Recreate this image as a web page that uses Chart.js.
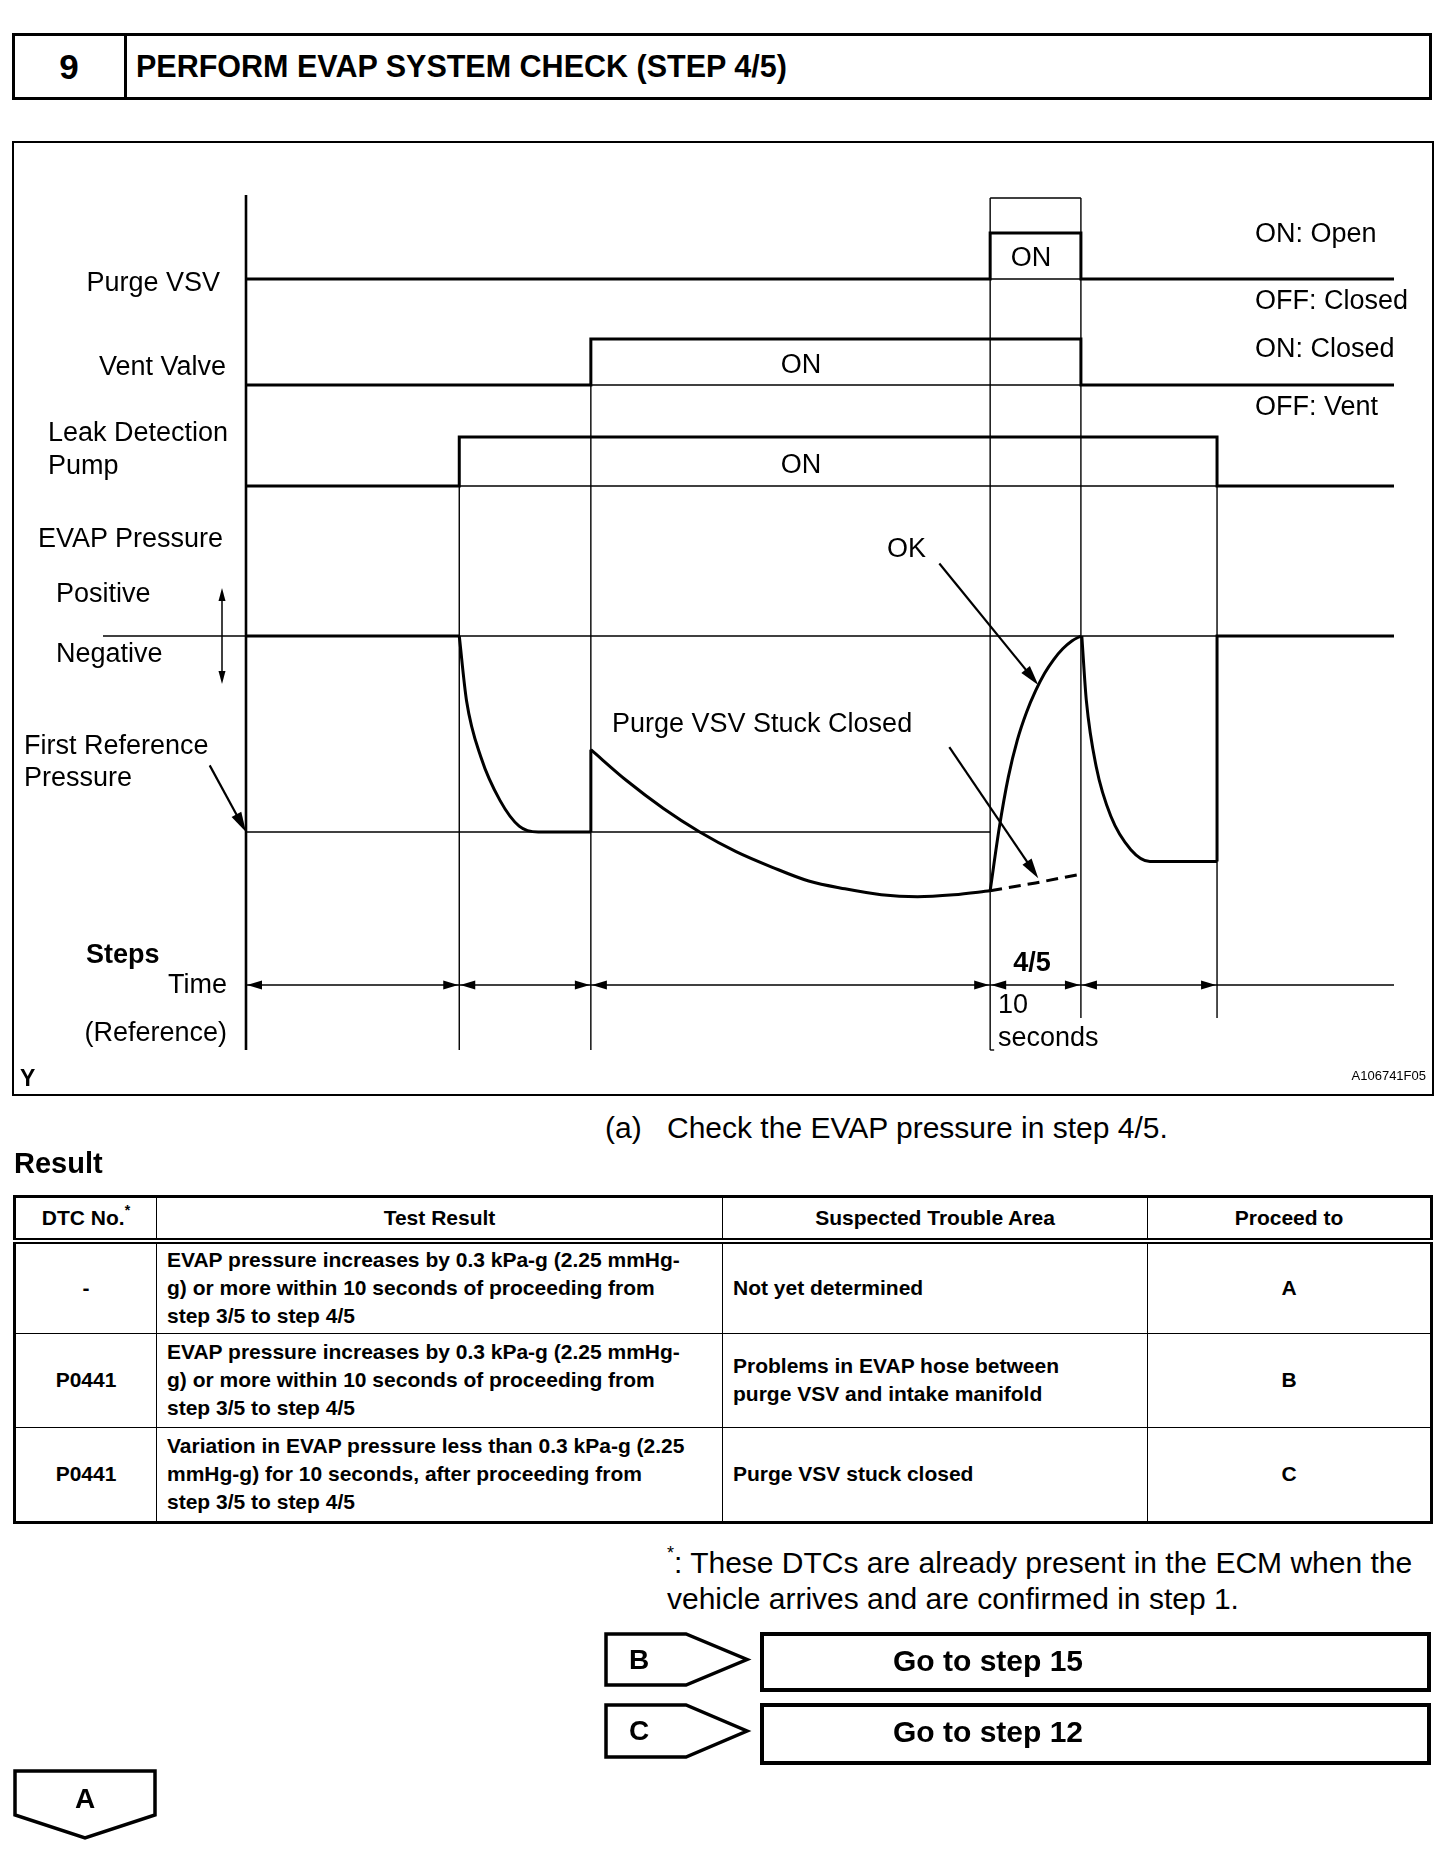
<!DOCTYPE html>
<html><head><meta charset="utf-8">
<script src="https://cdn.jsdelivr.net/npm/chart.js@4/dist/chart.umd.min.js"></script>
<style>
html,body{margin:0;padding:0;background:#fff;}
body{width:1456px;height:1872px;position:relative;overflow:hidden;font-family:"Liberation Sans",Arial,Helvetica,sans-serif;color:#000;}
.abs{position:absolute;white-space:nowrap;line-height:1;}
.l{transform:translate(0,-50%);}
.r{transform:translate(-100%,-50%);}
.c{transform:translate(-50%,-50%);}
.d{font-size:27px;}
.b{font-weight:bold;}
#hdr{position:absolute;left:12px;top:33px;width:1420px;height:67px;border:3px solid #000;box-sizing:border-box;}
#hdrDiv{position:absolute;left:109px;top:0;bottom:0;border-left:3px solid #000;}
#frame{position:absolute;left:12px;top:141px;width:1422px;height:955px;border:2px solid #000;box-sizing:border-box;}
#c{position:absolute;left:0;top:0;}
table{position:absolute;left:13px;top:1195px;border-collapse:collapse;table-layout:fixed;width:1417px;border:3px solid #000;}
td,th{border:1.5px solid #000;font-size:21px;font-weight:bold;line-height:28px;padding:0 10px;vertical-align:middle;white-space:nowrap;overflow:visible;}
th{height:40px;border-bottom:6px double #000;text-align:center;}
td.cen{text-align:center;}
svg{position:absolute;left:0;top:0;}
</style></head><body>
<div id="hdr"><div id="hdrDiv"></div></div>
<div class="abs c b" style="left:69px;top:66px;font-size:35px;">9</div>
<div class="abs l b" style="left:136px;top:66px;font-size:30.5px;">PERFORM EVAP SYSTEM CHECK (STEP 4/5)</div>

<div id="frame"></div>
<canvas id="c" width="1456" height="1110"></canvas>

<!-- diagram labels -->
<div class="abs r d" style="left:220px;top:282px;">Purge VSV</div>
<div class="abs r d" style="left:226px;top:366px;">Vent Valve</div>
<div class="abs l d" style="left:48px;top:432px;">Leak Detection</div>
<div class="abs l d" style="left:48px;top:465px;">Pump</div>
<div class="abs l d" style="left:38px;top:538px;">EVAP Pressure</div>
<div class="abs l d" style="left:56px;top:593px;">Positive</div>
<div class="abs l d" style="left:56px;top:653px;">Negative</div>
<div class="abs l d" style="left:24px;top:745px;">First Reference</div>
<div class="abs l d" style="left:24px;top:777px;">Pressure</div>
<div class="abs l d" style="left:612px;top:723px;">Purge VSV Stuck Closed</div>
<div class="abs l d" style="left:887px;top:548px;">OK</div>
<div class="abs c d" style="left:1031px;top:257px;">ON</div>
<div class="abs c d" style="left:801px;top:364px;">ON</div>
<div class="abs c d" style="left:801px;top:464px;">ON</div>
<div class="abs l d" style="left:1255px;top:233px;">ON: Open</div>
<div class="abs l d" style="left:1255px;top:300px;">OFF: Closed</div>
<div class="abs l d" style="left:1255px;top:348px;">ON: Closed</div>
<div class="abs l d" style="left:1255px;top:406px;">OFF: Vent</div>
<div class="abs l d b" style="left:86px;top:954px;">Steps</div>
<div class="abs r d" style="left:227px;top:984px;">Time</div>
<div class="abs r d" style="left:227px;top:1032px;">(Reference)</div>
<div class="abs c d b" style="left:1032px;top:962px;">4/5</div>
<div class="abs l d" style="left:998px;top:1004px;">10</div>
<div class="abs l d" style="left:998px;top:1037px;">seconds</div>
<div class="abs l b" style="left:20px;top:1078px;font-size:23px;">Y</div>
<div class="abs r" style="left:1426px;top:1075px;font-size:13px;">A106741F05</div>

<!-- below diagram -->
<div class="abs l" style="left:605px;top:1128px;font-size:30px;">(a)</div>
<div class="abs l" style="left:667px;top:1128px;font-size:30px;">Check the EVAP pressure in step 4/5.</div>
<div class="abs l b" style="left:14px;top:1163px;font-size:29px;">Result</div>

<table>
<colgroup><col style="width:142px"><col style="width:566px"><col style="width:425px"><col style="width:284px"></colgroup>
<tr><th>DTC No.<sup style="font-size:14px;vertical-align:10px;line-height:0;">*</sup></th><th>Test Result</th><th>Suspected Trouble Area</th><th>Proceed to</th></tr>
<tr style="height:92px"><td class="cen">-</td><td>EVAP pressure increases by 0.3 kPa-g (2.25 mmHg-<br>g) or more within 10 seconds of proceeding from<br>step 3/5 to step 4/5</td><td>Not yet determined</td><td class="cen">A</td></tr>
<tr style="height:94px"><td class="cen">P0441</td><td>EVAP pressure increases by 0.3 kPa-g (2.25 mmHg-<br>g) or more within 10 seconds of proceeding from<br>step 3/5 to step 4/5</td><td>Problems in EVAP hose between<br>purge VSV and intake manifold</td><td class="cen">B</td></tr>
<tr style="height:95px"><td class="cen">P0441</td><td>Variation in EVAP pressure less than 0.3 kPa-g (2.25<br>mmHg-g) for 10 seconds, after proceeding from<br>step 3/5 to step 4/5</td><td>Purge VSV stuck closed</td><td class="cen">C</td></tr>
</table>

<div class="abs l" style="left:667px;top:1563px;font-size:30px;"><sup style="font-size:18px;vertical-align:14px;line-height:0;">*</sup>: These DTCs are already present in the ECM when the</div>
<div class="abs l" style="left:667px;top:1599px;font-size:30px;">vehicle arrives and are confirmed in step 1.</div>

<svg width="1456" height="1872">
<polygon points="606,1634 686,1634 747,1659.5 686,1685 606,1685" fill="#fff" stroke="#000" stroke-width="3.5"/>
<rect x="762" y="1634" width="667" height="56" fill="#fff" stroke="#000" stroke-width="4"/>
<polygon points="606,1705 686,1705 747,1731 686,1757 606,1757" fill="#fff" stroke="#000" stroke-width="3.5"/>
<rect x="762" y="1705" width="667" height="58" fill="#fff" stroke="#000" stroke-width="4"/>
<polygon points="15,1771 155,1771 155,1815 85,1838 15,1815" fill="#fff" stroke="#000" stroke-width="3.5"/>
</svg>
<div class="abs l b" style="left:629px;top:1660px;font-size:28px;">B</div>
<div class="abs l b" style="left:893px;top:1661px;font-size:30px;">Go to step 15</div>
<div class="abs l b" style="left:629px;top:1731px;font-size:28px;">C</div>
<div class="abs l b" style="left:893px;top:1732px;font-size:30px;">Go to step 12</div>
<div class="abs c b" style="left:85px;top:1799px;font-size:28px;">A</div>

<script>
// ---------- DATA (time in seconds) ----------
// step boundaries: start, pump ON, vent ON (3/5), purge ON (4/5), 4/5 end, pump OFF, end of trace
const stepBounds = [0, 23.5, 38, 82, 92, 107, 126.5];
// ON(1)/OFF(0) state within each step interval
const purgeVSV  = [0, 0, 0, 1, 0, 0];
const ventValve = [0, 0, 1, 1, 0, 0];
const leakPump  = [0, 1, 1, 1, 1, 0];

// EVAP pressure (relative units, first reference pressure = -1)
const firstRef = -1.0;
const idleT = [0, 23.5];                      const idleP = [0, 0];
const pumpDownT = [23.5, 24.3, 25.9, 28.0, 30.1, 32.2, 38];
const pumpDownP = [0, -0.33, -0.62, -0.84, -0.97, -1.0, -1.0];
const ventJumpT = [38, 38];                   const ventJumpP = [-1.0, -0.58];
const sealedT = [38, 42, 46, 50, 54, 58, 62, 66, 70, 74, 78, 82];
const sealedP = [-0.58, -0.74, -0.88, -1.0, -1.10, -1.18, -1.25, -1.29, -1.32, -1.33, -1.32, -1.30];
const okRiseT = [82, 83, 84, 85, 86, 87, 88, 89, 90, 91, 92];
const okRiseP = [-1.30, -0.98, -0.72, -0.53, -0.39, -0.28, -0.19, -0.12, -0.065, -0.025, 0];
const stuckT = [82, 87, 92];                  const stuckP = [-1.30, -1.26, -1.215];
const ventDropT = [92.1, 92.6, 93.7, 95.3, 97.5, 99.6, 101, 107];
const ventDropP = [0, -0.33, -0.67, -0.92, -1.09, -1.15, -1.15, -1.15];
const releaseT = [107, 107, 126.5];           const releaseP = [-1.15, 0, 0];

// pointer arrows (time, pressure)
const okPointer    = {from: [76.4, 0.37],  to: [87.3, -0.25]};
const stuckPointer = {from: [77.5, -0.567], to: [87.3, -1.236]};
const refPointer   = {from: [-4.0, -0.66], to: [0, firstRef]};

// ---------- layout of rows on the shared vertical scale ----------
const ROW = {
  purge: {base: 84, amp: 46},
  vent: {base: 190, amp: 46},
  pump: {base: 291, amp: 49},
  pressure: {base: 441, amp: 196}
};
const TIME_ROW = 790, BOX_TOP = 3, BOTTOM = 855, SHORT_BOTTOM = 823;
function yOf(row, v){ return ROW[row].base - v * ROW[row].amp; }
function stepSeries(row, states){
  const pts = [];
  states.forEach((s, i) => { pts.push({x: stepBounds[i], y: yOf(row, s)}); pts.push({x: stepBounds[i+1], y: yOf(row, s)}); });
  return pts;
}
function curve(T, P){ return T.map((t, i) => ({x: t, y: yOf('pressure', P[i])})); }

function ds(data, extra){
  return Object.assign({data, borderColor:'#000', borderWidth:3, pointRadius:0, pointHoverRadius:0,
    fill:false, tension:0, borderCapStyle:'butt', borderJoinStyle:'miter', clip:false}, extra||{});
}
const smooth = {cubicInterpolationMode:'monotone'};

function head(ctx, x1, y1, x2, y2, len, hw){
  const a = Math.atan2(y2 - y1, x2 - x1), c = Math.cos(a), s = Math.sin(a);
  ctx.beginPath();
  ctx.moveTo(x2, y2);
  ctx.lineTo(x2 - len*c + hw*s, y2 - len*s - hw*c);
  ctx.lineTo(x2 - len*c - hw*s, y2 - len*s + hw*c);
  ctx.closePath(); ctx.fill();
}

const guides = {
  id: 'guides',
  beforeDatasetsDraw(chart){
    const {ctx, chartArea: a, scales: {x, y}} = chart;
    const X = t => x.getPixelForValue(t), Y = v => y.getPixelForValue(v), B = stepBounds;
    ctx.save(); ctx.strokeStyle = '#000'; ctx.fillStyle = '#000'; ctx.lineCap = 'butt';
    const line = (x1, y1, x2, y2, w) => { ctx.lineWidth = w; ctx.beginPath(); ctx.moveTo(x1, y1); ctx.lineTo(x2, y2); ctx.stroke(); };
    const thin = 1.4;
    const z = Y(yOf('pressure', 0));
    line(a.left - 143, z, X(B[6]), z, thin);
    line(X(B[0]), Y(yOf('pressure', firstRef)), X(B[3]), Y(yOf('pressure', firstRef)), thin);
    line(X(B[3]), Y(yOf('purge', 0)), X(B[4]), Y(yOf('purge', 0)), thin);
    line(X(B[3]), Y(BOX_TOP), X(B[4]), Y(BOX_TOP), thin);
    line(X(B[2]), Y(yOf('vent', 0)), X(B[4]), Y(yOf('vent', 0)), thin);
    line(X(B[1]), Y(yOf('pump', 0)), X(B[5]), Y(yOf('pump', 0)), thin);
    line(X(B[0]), Y(TIME_ROW), X(B[6]), Y(TIME_ROW), 1.6);
    line(X(B[0]), Y(0), X(B[0]), Y(BOTTOM), 2.6);
    line(X(B[1]), Y(yOf('pump', 1)), X(B[1]), Y(BOTTOM), thin);
    line(X(B[2]), Y(yOf('vent', 1)), X(B[2]), Y(BOTTOM), thin);
    line(X(B[3]), Y(BOX_TOP), X(B[3]), Y(BOTTOM), thin);
    line(X(B[3]), Y(BOTTOM), X(B[3]) + 4, Y(BOTTOM), thin);
    line(X(B[4]), Y(BOX_TOP), X(B[4]), Y(SHORT_BOTTOM), thin);
    line(X(B[5]), Y(yOf('pump', 1)), X(B[5]), Y(SHORT_BOTTOM), thin);
    // positive / negative double arrow
    const ax = a.left - 24, yTop = Y(yOf('pressure', 0.245)), yBot = Y(yOf('pressure', -0.245));
    line(ax, yTop + 8, ax, yBot - 8, 1.5);
    head(ctx, ax, yTop + 20, ax, yTop, 13, 3.5);
    head(ctx, ax, yBot - 20, ax, yBot, 13, 3.5);
    // time arrows
    const yt = Y(TIME_ROW);
    for (let i = 0; i < 5; i++) {
      const xa = X(B[i]), xb = X(B[i+1]);
      head(ctx, xa + 20, yt, xa + 1, yt, 15, 4.5);
      head(ctx, xb - 20, yt, xb - 1, yt, 15, 4.5);
    }
    ctx.restore();
  },
  afterDatasetsDraw(chart){
    const {ctx, scales: {x, y}} = chart;
    const P = p => [x.getPixelForValue(p[0]), y.getPixelForValue(yOf('pressure', p[1]))];
    ctx.save(); ctx.strokeStyle = '#000'; ctx.fillStyle = '#000';
    [okPointer, stuckPointer, refPointer].forEach(ar => {
      const [x1, y1] = P(ar.from), [x2, y2] = P(ar.to);
      const a = Math.atan2(y2 - y1, x2 - x1);
      ctx.lineWidth = 2.2; ctx.beginPath(); ctx.moveTo(x1, y1);
      ctx.lineTo(x2 - 14*Math.cos(a), y2 - 14*Math.sin(a)); ctx.stroke();
      head(ctx, x1, y1, x2, y2, 20, 5.5);
    });
    ctx.restore();
  }
};

new Chart(document.getElementById('c'), {
  type: 'line',
  data: {
    datasets: [
      ds(stepSeries('purge', purgeVSV)),
      ds(stepSeries('vent', ventValve)),
      ds(stepSeries('pump', leakPump)),
      ds(curve(idleT, idleP)),
      ds(curve(pumpDownT, pumpDownP), smooth),
      ds(curve(ventJumpT, ventJumpP)),
      ds(curve(sealedT, sealedP), smooth),
      ds(curve(okRiseT, okRiseP), smooth),
      ds(curve(stuckT, stuckP), {borderDash: [12, 7]}),
      ds(curve(ventDropT, ventDropP), smooth),
      ds(curve(releaseT, releaseP))
    ]
  },
  options: {
    responsive: false, devicePixelRatio: 1, animation: false,
    layout: {padding: {left: 246, right: 62, top: 195, bottom: 60}},
    plugins: {legend: {display: false}, tooltip: {enabled: false}},
    events: [],
    scales: {
      x: {type: 'linear', min: 0, max: 126.5, display: false},
      y: {type: 'linear', min: 0, max: 855, reverse: true, display: false}
    }
  },
  plugins: [guides]
});
</script>
</body></html>
